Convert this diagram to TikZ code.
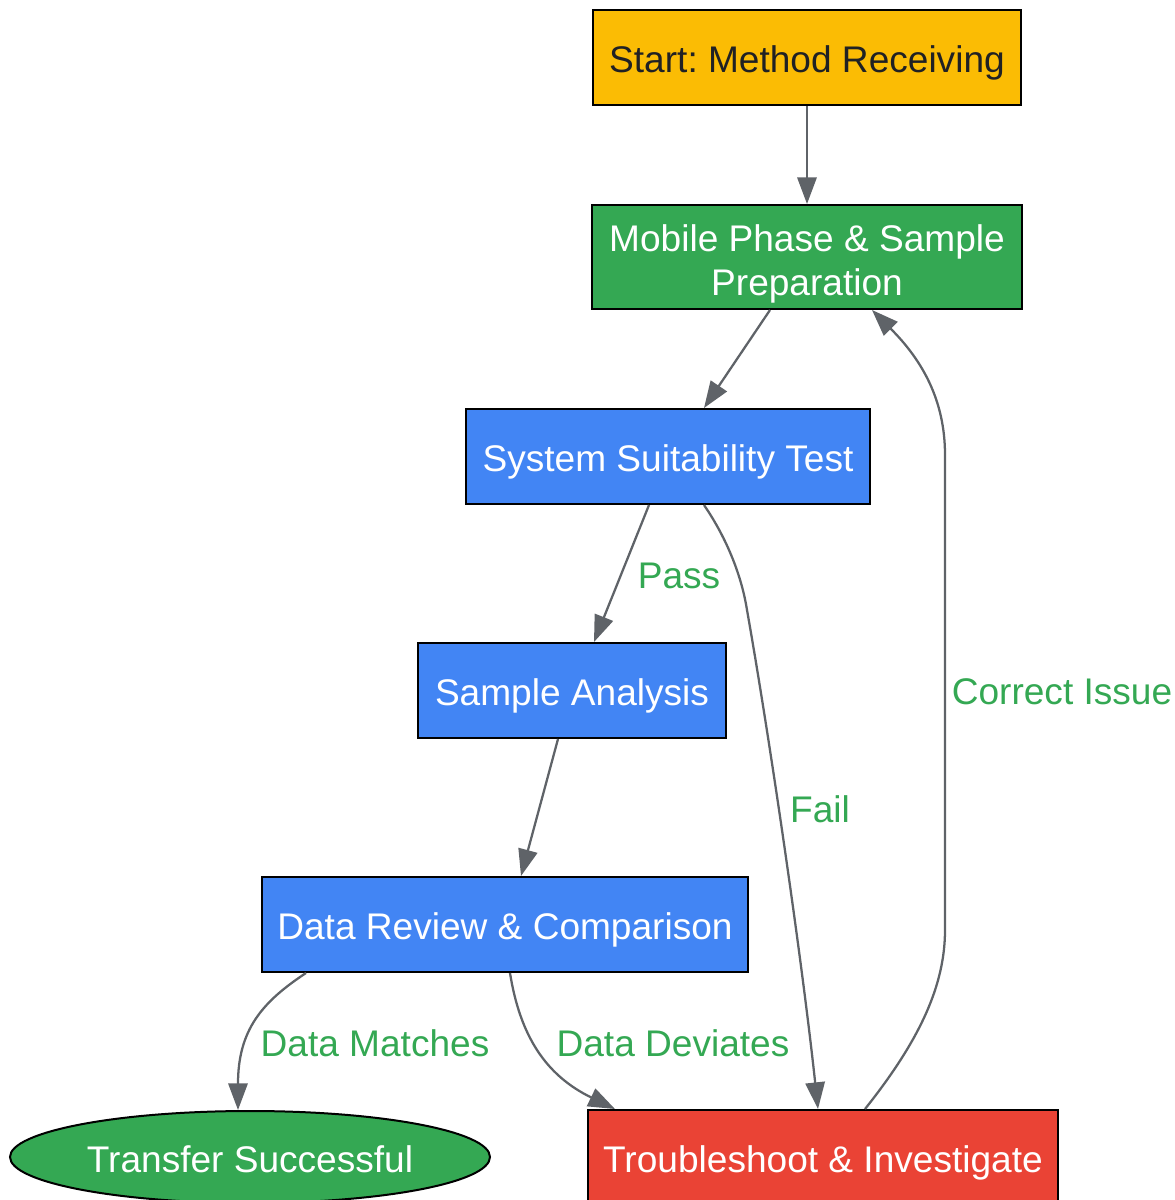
\documentclass[tikz,border=0pt]{standalone}
\usepackage{fontspec}
\setmainfont{Liberation Sans}
\usetikzlibrary{arrows.meta,shapes.geometric,calc}
\definecolor{gyellow}{HTML}{FBBC04}
\definecolor{ggreen}{HTML}{34A853}
\definecolor{gblue}{HTML}{4285F4}
\definecolor{gred}{HTML}{EA4335}
\definecolor{ggray}{HTML}{5F6368}
\definecolor{gdark}{HTML}{202124}
\frenchspacing
\tikzset{
  box/.style={draw=black, line width=1.5pt, rectangle, inner sep=0pt, align=center,
    font=\fontsize{27.8}{33}\selectfont\frenchspacing},
  oneline/.style={text height=22pt, text depth=0.2pt},
  conn/.style={draw=ggray, line width=1.7pt, -{Triangle[length=20pt,width=14.5pt]}},
  lbl/.style={text=ggreen, inner sep=0pt, font=\fontsize{27.8}{33}\selectfont}
}
\begin{document}
\begin{tikzpicture}[x=0.75pt,y=-0.75pt]
\useasboundingbox (0,0) rectangle (1175,1200);
\begin{scope}
\clip (0,0) rectangle (1175,1200);
\node[box, oneline, fill=gyellow, text=gdark, minimum width=321pt, minimum height=71.25pt] (start) at (807,57.5) {Start: Method Receiving};
\node[box, fill=ggreen, text=white, minimum width=322.5pt, minimum height=78pt] (prep) at (807,257) {\rule{0pt}{31pt}Mobile Phase \& Sample\\Preparation};
\node[box, oneline, fill=gblue, text=white, minimum width=303pt, minimum height=71.25pt] (sst) at (668,456.5) {System Suitability Test};
\node[box, oneline, fill=gblue, text=white, minimum width=231pt, minimum height=71.25pt] (sample) at (572,690.5) {Sample Analysis};
\node[box, oneline, fill=gblue, text=white, minimum width=364.5pt, minimum height=71.25pt] (review) at (505,924.5) {Data Review \& Comparison};
\node[box, ellipse, text height=23.5pt, text depth=0pt, fill=ggreen, text=white, minimum width=360pt, minimum height=69pt] (success) at (250,1157) {Transfer Successful};
\node[box, oneline, fill=gred, text=white, minimum width=352.5pt, minimum height=72pt] (trouble) at (823,1158) {Troubleshoot \& Investigate};

\draw[conn] (start.south) -- (prep.north);
\draw[conn] ([xshift=-27.75pt]prep.south) -- ([xshift=27pt]sst.north);
\draw[conn] ([xshift=-14.25pt]sst.south) -- ([xshift=16.5pt]sample.north);
\draw[conn] ([xshift=27pt]sst.south) .. controls (728,540) and (742,578) .. (747,610)
   .. controls (770,740) and (802,960) .. ([xshift=-3.75pt]trouble.north);
\draw[conn] ([xshift=-10.5pt]sample.south) -- ([xshift=12pt]review.north);
\draw[conn] ([xshift=-149.25pt]review.south) .. controls (262,1002) and (238,1030) .. ([xshift=-9pt]success.north);
\draw[conn] ([xshift=3.75pt]review.south) .. controls (520,1035) and (545,1075) .. ([xshift=-156pt]trouble.north);
\draw[conn] ([xshift=31.5pt]trouble.north) .. controls (920,1040) and (945,985) .. (945,930)
   -- (945,455) .. controls (945,400) and (922,360) .. ([xshift=48.75pt]prep.south);

\node[lbl] (lpass) at (679,576) {Pass};
\node[lbl] (lfail) at (820,809) {Fail};
\node[lbl] (lcorrect) at (1062,692) {Correct Issue};
\node[lbl] (lmatch) at (375,1043) {Data Matches};
\node[lbl] (ldev) at (673,1043) {Data Deviates};
\end{scope}
\end{tikzpicture}
\end{document}
